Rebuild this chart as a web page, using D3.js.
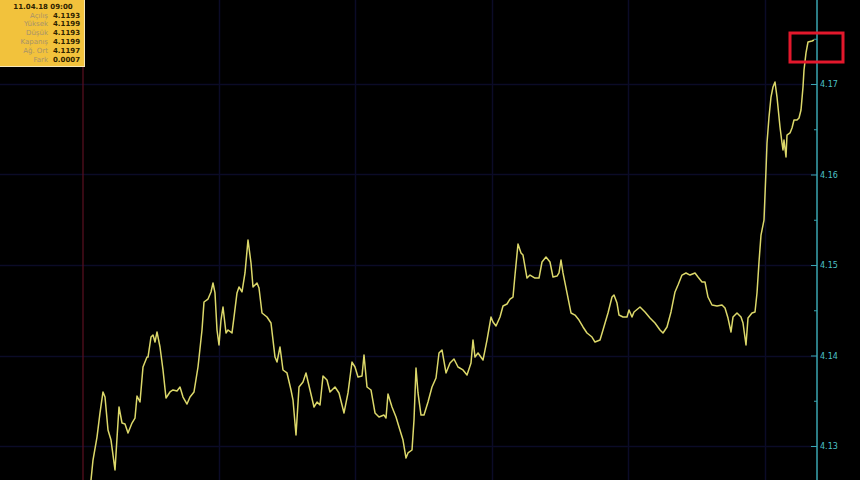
<!DOCTYPE html>
<html>
<head>
<meta charset="utf-8">
<script src="https://cdn.jsdelivr.net/npm/d3@7"></script>
<style>
  html, body { margin: 0; padding: 0; background: #000; }
  svg { display: block; }
</style>
</head>
<body>
<div id="chart"></div>
<script>
// minutes from the start of the window, and the price at that minute
const minutes = [
  1, 3, 7, 10, 13, 15, 18, 21, 25, 27,
  29, 32, 35, 38, 42, 45, 47, 50, 53, 57,
  58, 61, 63, 65, 67, 70, 73, 76, 80, 83,
  87, 90, 93, 97, 100, 104, 108, 112, 114, 118,
  121, 123, 125, 127, 129, 131, 133, 136, 138, 142,
  144, 147, 149, 152, 155, 158, 161, 163, 167, 169,
  172, 177, 181, 185, 187, 190, 193, 197, 201, 203,
  206, 209, 213, 216, 220, 224, 227, 230, 233, 237,
  240, 245, 249, 254, 258, 262, 265, 268, 272, 274,
  277, 281, 285, 289, 294, 296, 298, 302, 306, 309,
  313, 316, 318, 322, 324, 326, 328, 331, 334, 338,
  342, 346, 349, 352, 356, 360, 364, 368, 373, 377,
  381, 383, 385, 388, 393, 397, 401, 403, 406, 410,
  413, 417, 420, 423, 425, 428, 431, 433, 437, 440,
  445, 449, 452, 456, 460, 463, 467, 469, 471, 473,
  477, 481, 485, 489, 493, 497, 502, 505, 510, 513,
  518, 522, 524, 527, 529, 533, 537, 539, 542, 544,
  550, 555, 560, 565, 570, 573, 577, 581, 585, 588,
  592, 596, 600, 605, 608, 612, 615, 618, 622, 627,
  632, 635, 638, 641, 643, 647, 651, 653, 656, 658,
  662, 665, 667, 669, 671, 674, 676, 677, 679, 681,
  683, 685, 687, 688, 690, 692, 693, 694, 696, 697,
  700, 702, 704, 707, 709, 711, 713, 714, 716, 718,
  722, 724
];
const prices = [
  4.12624, 4.12845, 4.13099, 4.13365, 4.13597, 4.13541, 4.13177, 4.13066, 4.12735, 4.13088,
  4.13431, 4.13254, 4.13243, 4.13144, 4.13254, 4.13309, 4.13552, 4.13486, 4.13873, 4.13983,
  4.13983, 4.14204, 4.14226, 4.14149, 4.14260, 4.14094, 4.13840, 4.13530, 4.13597, 4.13619,
  4.13608, 4.13652, 4.13541, 4.13464, 4.13541, 4.13597, 4.13873, 4.14282, 4.14591, 4.14624,
  4.14702, 4.14801, 4.14691, 4.14282, 4.14116, 4.14392, 4.14536, 4.14249, 4.14282, 4.14249,
  4.14425, 4.14691, 4.14757, 4.14702, 4.14912, 4.15276, 4.15022, 4.14757, 4.14801, 4.14746,
  4.14470, 4.14425, 4.14359, 4.13983, 4.13928, 4.14094, 4.13840, 4.13807, 4.13619, 4.13508,
  4.13121, 4.13652, 4.13707, 4.13807, 4.13619, 4.13431, 4.13486, 4.13453, 4.13773, 4.13729,
  4.13597, 4.13652, 4.13586, 4.13365, 4.13586, 4.13928, 4.13873, 4.13762, 4.13773, 4.14005,
  4.13652, 4.13619, 4.13365, 4.13320, 4.13342, 4.13309, 4.13575, 4.13431, 4.13320, 4.13210,
  4.13066, 4.12867, 4.12923, 4.12956, 4.13287, 4.13862, 4.13586, 4.13342, 4.13342, 4.13486,
  4.13652, 4.13751, 4.14028, 4.14061, 4.13807, 4.13917, 4.13961, 4.13873, 4.13840, 4.13784,
  4.13917, 4.14171, 4.13983, 4.14028, 4.13950, 4.14171, 4.14425, 4.14370, 4.14326, 4.14425,
  4.14547, 4.14569, 4.14624, 4.14646, 4.14889, 4.15232, 4.15133, 4.15110, 4.14856, 4.14889,
  4.14856, 4.14856, 4.15033, 4.15088, 4.15033, 4.14867, 4.14878, 4.14912, 4.15055, 4.14912,
  4.14691, 4.14470, 4.14447, 4.14392, 4.14315, 4.14249, 4.14204, 4.14149, 4.14171, 4.14282,
  4.14470, 4.14646, 4.14668, 4.14580, 4.14447, 4.14425, 4.14425, 4.14503, 4.14425, 4.14481,
  4.14536, 4.14481, 4.14414, 4.14359, 4.14282, 4.14249, 4.14315, 4.14481, 4.14702, 4.14779,
  4.14889, 4.14912, 4.14889, 4.14912, 4.14867, 4.14812, 4.14812, 4.14646, 4.14558, 4.14547,
  4.14558, 4.14525, 4.14414, 4.14260, 4.14425, 4.14470, 4.14425, 4.14359, 4.14116, 4.14414,
  4.14470, 4.14481, 4.14691, 4.15033, 4.15331, 4.15497, 4.16050, 4.16348, 4.16635, 4.16856,
  4.16967, 4.17022, 4.16856, 4.16746, 4.16525, 4.16348, 4.16271, 4.16381, 4.16193, 4.16436,
  4.16459, 4.16514, 4.16602, 4.16602, 4.16624, 4.16713, 4.16967, 4.17155, 4.17343, 4.17464,
  4.17475, 4.17486
];

const majorTicks = [4.13, 4.14, 4.15, 4.16, 4.17];
const minorTicks = [4.125, 4.135, 4.145, 4.155, 4.165, 4.175];
const gridMinutes = [129, 265, 402, 538, 675];
const cursorMinute = -7;

const infoTitle = '11.04.18 09:00';
const infoLabels = ['Açılış', 'Yüksek', 'Düşük', 'Kapanış', 'Ağ. Ort', 'Fark'];
const infoValues = ['4.1193', '4.1199', '4.1193', '4.1199', '4.1197', '0.0007'];

const width = 860, height = 480;
const axisX = 817;

const svg = d3.select('#chart').append('svg')
  .attr('width', width)
  .attr('height', height)
  .style('background', '#000');

const x = d3.scaleLinear().domain([0, 724]).range([90, 814]);
const y = d3.scaleLinear().domain([4.13, 4.17]).range([446, 84]);

const data = minutes.map((m, i) => ({ m, p: prices[i] }));

// grid
svg.append('g')
  .selectAll('line')
  .data(majorTicks)
  .join('line')
  .attr('x1', 0)
  .attr('x2', axisX)
  .attr('y1', d => Math.round(y(d)) + 0.5)
  .attr('y2', d => Math.round(y(d)) + 0.5)
  .attr('stroke', '#0b0b27')
  .attr('stroke-width', 1.5);

svg.append('g')
  .selectAll('line')
  .data(gridMinutes)
  .join('line')
  .attr('x1', d => Math.round(x(d)) + 0.5)
  .attr('x2', d => Math.round(x(d)) + 0.5)
  .attr('y1', 0)
  .attr('y2', height)
  .attr('stroke', '#0b0b27')
  .attr('stroke-width', 1.5);

svg.append('line')
  .attr('x1', x(cursorMinute))
  .attr('x2', x(cursorMinute))
  .attr('y1', 0)
  .attr('y2', height)
  .attr('stroke', '#5c1020')
  .attr('stroke-width', 1.2);

// price line
svg.append('path')
  .datum(data)
  .attr('fill', 'none')
  .attr('stroke', '#dcd86a')
  .attr('stroke-width', 1.5)
  .attr('stroke-linejoin', 'round')
  .attr('d', d3.line().x(d => x(d.m)).y(d => y(d.p)));

// right axis
svg.append('line')
  .attr('x1', axisX)
  .attr('x2', axisX)
  .attr('y1', 0)
  .attr('y2', height)
  .attr('stroke', '#3aa6b0')
  .attr('stroke-width', 1.5);

const axisMajor = svg.append('g')
  .attr('transform', `translate(${axisX},0)`)
  .call(d3.axisRight(y).tickValues(majorTicks).tickSizeInner(-6).tickSizeOuter(0)
    .tickPadding(3).tickFormat(d3.format('.2f')));
axisMajor.select('.domain').remove();
axisMajor.selectAll('line').attr('stroke', '#3aa6b0');
axisMajor.selectAll('text')
  .attr('fill', '#4cc0c8')
  .style('font-family', 'DejaVu Sans, sans-serif')
  .style('font-size', '8px');

const axisMinor = svg.append('g')
  .attr('transform', `translate(${axisX},0)`)
  .call(d3.axisRight(y).tickValues(minorTicks).tickSizeInner(-3).tickSizeOuter(0).tickFormat(''));
axisMinor.select('.domain').remove();
axisMinor.selectAll('line').attr('stroke', '#3aa6b0');

// highlight around the last price
const last = data[data.length - 1];
svg.append('rect')
  .attr('x', x(last.m) - 24)
  .attr('y', y(last.p) - 7)
  .attr('width', 53)
  .attr('height', 29)
  .attr('fill', 'none')
  .attr('stroke', '#e3182c')
  .attr('stroke-width', 3);

// info box
const info = svg.append('g');
info.append('rect')
  .attr('x', 0)
  .attr('y', 0)
  .attr('width', 84)
  .attr('height', 66)
  .attr('fill', '#f2c23c');
info.append('line')
  .attr('x1', 0).attr('x2', 85)
  .attr('y1', 66.5).attr('y2', 66.5)
  .attr('stroke', '#f6e7b8')
  .attr('stroke-width', 1);
info.append('line')
  .attr('x1', 84.5).attr('x2', 84.5)
  .attr('y1', 0).attr('y2', 67)
  .attr('stroke', '#f6e7b8')
  .attr('stroke-width', 1);

info.append('text')
  .attr('x', 43)
  .attr('y', 8.5)
  .attr('text-anchor', 'middle')
  .attr('fill', '#2e2200')
  .style('font-family', 'DejaVu Sans, sans-serif')
  .style('font-size', '7px')
  .style('font-weight', 'bold')
  .text(infoTitle);

info.append('g')
  .selectAll('text')
  .data(infoLabels)
  .join('text')
  .attr('x', 48)
  .attr('y', (d, i) => 17.5 + i * 8.8)
  .attr('text-anchor', 'end')
  .attr('fill', '#a8926a')
  .style('font-family', 'DejaVu Sans, sans-serif')
  .style('font-size', '7px')
  .text(d => d);

info.append('g')
  .selectAll('text')
  .data(infoValues)
  .join('text')
  .attr('x', 80)
  .attr('y', (d, i) => 17.5 + i * 8.8)
  .attr('text-anchor', 'end')
  .attr('fill', '#2e2200')
  .style('font-family', 'DejaVu Sans, sans-serif')
  .style('font-size', '7px')
  .style('font-weight', 'bold')
  .text(d => d);
</script>
</body>
</html>
